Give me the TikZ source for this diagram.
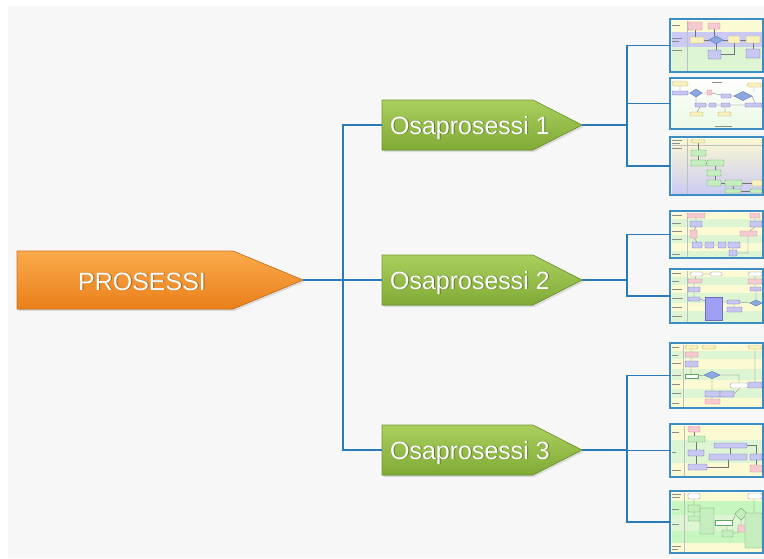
\documentclass[tikz,border=0pt]{standalone}
\usepackage{fontspec}
\setmainfont{Liberation Sans}
\usetikzlibrary{shadows}

\definecolor{pagebg}{HTML}{F7F7F7}
\definecolor{connblue}{HTML}{2A7AB8}
\definecolor{orgtop}{HTML}{FBAA4C}
\definecolor{orgbot}{HTML}{E9801A}
\definecolor{orgedge}{HTML}{D4721A}
\definecolor{grntop}{HTML}{AACF5E}
\definecolor{grnbot}{HTML}{80AA36}
\definecolor{grnedge}{HTML}{6F9A2E}
\definecolor{frameblue}{HTML}{3C8EC2}
\definecolor{laneyel}{HTML}{FCFAD2}
\definecolor{lanegrn}{HTML}{DDF5D3}
\definecolor{lanelav}{HTML}{CACAF4}
\definecolor{bxpink}{HTML}{F5CBD1}
\definecolor{bxpinkd}{HTML}{D0808F}
\definecolor{bxlav}{HTML}{C7C7F1}
\definecolor{bxlavd}{HTML}{6E6EC0}
\definecolor{bxyel}{HTML}{F8F1BE}
\definecolor{bxyeld}{HTML}{BDAE62}
\definecolor{bxgrn}{HTML}{C6EDBE}
\definecolor{bxgrnd}{HTML}{5EA65E}
\definecolor{bxdia}{HTML}{8EA7E0}
\definecolor{bxdiad}{HTML}{4F6FB0}

\tikzset{
  conn/.style={draw=connblue, line width=1.4},
  mainshape/.style={top color=orgtop, bottom color=orgbot, draw=orgedge, line width=0.6,
    drop shadow={opacity=0.22, shadow xshift=1.5pt, shadow yshift=-2pt}},
  subshape/.style={top color=grntop, bottom color=grnbot, draw=grnedge, line width=0.6,
    drop shadow={opacity=0.22, shadow xshift=1.5pt, shadow yshift=-2pt}},
  bigtext/.style={font=\fontsize{25}{30}\selectfont, text=white, inner sep=0, anchor=base},
  bigshadow/.style={font=\fontsize{25}{30}\selectfont, text=black, opacity=0.35, inner sep=0, anchor=base},
  thumbframe/.style={draw=frameblue, line width=1.5},
  thumbinner/.style={draw=white, line width=0.5, opacity=0.7},
  tpink/.style={fill=bxpink, draw=bxpinkd, line width=0.35, rounded corners=0.6},
  tlav/.style={fill=bxlav, draw=bxlavd, line width=0.35, rounded corners=0.6},
  tyel/.style={fill=bxyel, draw=bxyeld, line width=0.35, rounded corners=0.6},
  tgrn/.style={fill=bxgrn, draw=bxgrnd, line width=0.35, rounded corners=0.6},
  twht/.style={fill=white, draw=black!45, line width=0.35, rounded corners=1.5},
  tdia/.style={fill=bxdia, draw=bxdiad, line width=0.35},
  tflow/.style={draw=black!55, line width=0.3},
  tsep/.style={draw=black!25, line width=0.3},
  tword/.style={draw=black!45, line width=0.5},
}

% small diamond: centre x, centre y, half width, half height
\newcommand{\tdiamond}[4]{%
  \filldraw[tdia] ({#1-#3},#2) -- (#1,{#2-#4}) -- ({#1+#3},#2) -- (#1,{#2+#4}) -- cycle;}

% miniature process chart: name, left x, top y, height, contents
\newcommand{\minichart}[5]{%
  \begin{scope}[shift={(#2,#3)}]
    \begin{scope}
      \clip (0,0) rectangle (93,#4);
      #5
    \end{scope}
    \draw[thumbinner] (1.2,1.2) rectangle (91.8,{#4-1.2});
    \draw[thumbframe] (0,0) rectangle (93,#4);
  \end{scope}
  \coordinate (#1) at (#2,{#3+#4/2});}

% horizontal swim lanes: list of top/bottom/colour
\newcommand{\lanes}[1]{%
  \foreach \ta/\tb/\tc in {#1} {\fill[\tc] (0,\ta) rectangle (93,\tb); \draw[tsep] (0,\tb) -- (93,\tb);}}

\begin{document}
\begin{tikzpicture}[x=1pt, y=-1pt]
  \useasboundingbox (0,0) rectangle (764,558);
  \fill[white] (0,0) rectangle (764,558);
  \fill[pagebg] (8,6) rectangle (764,558);

  % ---------- main process ----------
  \filldraw[mainshape] (17,251) -- (233,251) -- (303,280) -- (233,309) -- (17,309) -- cycle;
  \coordinate (mainTip) at (303,280);
  \node[bigshadow] at (143,290.8) {PROSESSI};
  \node[bigtext] (mainLabel) at (142,290) {PROSESSI};

  % ---------- sub processes ----------
  \foreach \cy/\nm/\num in {125/sub1/1, 280/sub2/2, 450/sub3/3} {
    \filldraw[subshape] (382,\cy-25) -- (533,\cy-25) -- (582,\cy) -- (533,\cy+25) -- (382,\cy+25) -- cycle;
    \coordinate (\nm W) at (382,\cy);
    \coordinate (\nm Tip) at (582,\cy);
    \node[bigshadow] at (471,\cy+9.8) {Osaprosessi \num};
    \node[bigtext] (\nm Label) at (470,\cy+9) {Osaprosessi \num};
  }

  % ---------- miniature charts ----------
  % chart 1
  \minichart{t1}{670}{19}{53}{
    \lanes{0/13/laneyel, 13/28/lanelav, 28/53/lanegrn}
    \draw[tsep] (17,0) -- (17,53);
    \draw[tword] (2,6) -- (10,6) (2,19) -- (12,19) (2,22) -- (9,22) (2,31) -- (12,31);
    \draw[tflow] (25,11) -- (25,18) (44,10) -- (44,17) (34,21) -- (39,21) (53,21) -- (58,21)
      (70,21) -- (76,21) (46,25) -- (46,31) (51,35) -| (64,24) (83,24) -- (83,30);
    \filldraw[tpink] (18,3) rectangle (32,11);
    \filldraw[tpink] (38,4) rectangle (50,10);
    \filldraw[tyel] (20,18) rectangle (34,24);
    \tdiamond{46}{21}{7}{4}
    \filldraw[tyel] (58,17) rectangle (70,24);
    \filldraw[tyel] (76,17) rectangle (90,24);
    \filldraw[tlav] (38,31) rectangle (51,40);
    \filldraw[tlav] (76,30) rectangle (90,39);
  }
  % chart 2
  \minichart{t2}{670}{78}{51}{
    \fill[top color=white, bottom color=lanegrn!60] (0,0) rectangle (93,51);
    \draw[tword] (42,4) -- (52,4) (45,48) -- (62,48);
    \draw[tflow] (18,15) -- (20,15) (32,15) -- (37,15) (42,15) -- (51,17) (61,18) -- (64,18)
      (26,19) -- (26,25) (36,27) -- (39,27) (46,27) -- (51,27) (82,18) -- (85,25)
      (84,9) -- (84,14) (30,29) -- (27,34) (55,29) -- (55,34) (10,8) -- (10,13) (60,27) -- (75,27);
    \filldraw[tyel, rounded corners=1.5] (2,3) rectangle (18,8);
    \filldraw[tlav] (2,13) rectangle (18,17);
    \tdiamond{26}{15}{6}{4}
    \filldraw[tpink] (37,12) rectangle (42,17);
    \filldraw[tlav] (51,16) rectangle (61,20);
    \tdiamond{73}{18}{9}{4.5}
    \filldraw[tyel, rounded corners=1.5] (77,5) rectangle (92,9);
    \filldraw[tlav] (25,25) rectangle (36,29);
    \filldraw[tlav] (39,25) rectangle (46,29);
    \filldraw[tlav] (51,25) rectangle (60,29);
    \filldraw[tlav] (75,25) rectangle (92,29);
    \filldraw[tyel] (20,34) rectangle (33,38);
    \filldraw[tyel] (48,34) rectangle (61,38);
  }
  % chart 3
  \minichart{t3}{670}{137}{58}{
    \fill[top color=laneyel, bottom color=lanelav] (0,0) rectangle (93,58);
    \draw[tsep] (0,8) -- (93,8) (17,0) -- (17,58);
    \draw[tword] (2,3) -- (12,3) (2,6) -- (10,6) (2,11) -- (12,11);
    \draw[tflow] (28,6) -- (28,13) (28,19) -- (28,23) (36,26) -- (37,26) (45,29) -- (45,33)
      (45,39) -- (45,43) (51,46) -- (55,46) (72,46) -- (82,46) (63,49) -- (63,52) (71,54) -- (80,54);
    \filldraw[tyel, rounded corners=1.5] (21,2) rectangle (35,6);
    \filldraw[tgrn] (21,13) rectangle (36,19);
    \filldraw[tgrn] (21,23) rectangle (36,29);
    \filldraw[tgrn] (37,23) rectangle (54,29);
    \filldraw[tgrn] (37,33) rectangle (51,39);
    \filldraw[tgrn] (37,43) rectangle (51,49);
    \filldraw[tgrn] (55,43) rectangle (72,49);
    \filldraw[tyel] (82,43) rectangle (92,49);
    \filldraw[tgrn] (55,52) rectangle (71,56);
    \filldraw[tgrn] (80,52) rectangle (92,56);
  }
  % chart 4
  \minichart{t4}{670}{211}{47}{
    \lanes{0/8/laneyel, 8/16/lanegrn, 16/24/laneyel, 24/32/lanegrn, 32/40/laneyel, 40/47/lanegrn}
    \draw[tsep] (17,0) -- (17,47);
    \draw[tword] (2,4) -- (12,4) (2,12) -- (11,12) (2,20) -- (12,20) (2,28) -- (12,28) (2,43) -- (10,43);
    \draw[tflow] (26,7) -- (26,10) (26,16) -- (24,19) (24,27) -- (27,31) (32,34) -- (35,34)
      (44,34) -- (48,34) (56,34) -- (58,34) (63,37) -- (63,39) (67,42) -| (78,25) (85,7) -- (85,10) (85,16) -- (80,20);
    \filldraw[tpink] (17,2) rectangle (35,7);
    \filldraw[tlav] (20,10) rectangle (32,16);
    \filldraw[tpink] (20,19) rectangle (27,27);
    \filldraw[tlav] (22,31) rectangle (32,37);
    \filldraw[tlav] (35,31) rectangle (44,37);
    \filldraw[tlav] (48,31) rectangle (56,37);
    \filldraw[tlav] (58,31) rectangle (70,37);
    \filldraw[tlav] (59,39) rectangle (67,45);
    \filldraw[tpink] (80,2) rectangle (90,7);
    \filldraw[tlav] (80,10) rectangle (92,16);
    \filldraw[tpink] (70,20) rectangle (87,25);
  }
  % chart 5
  \minichart{t5}{670}{269}{54}{
    \lanes{0/8/laneyel, 8/16/lanegrn, 16/24/laneyel, 24/34/lanegrn, 34/42/laneyel, 42/54/lanegrn}
    \draw[tsep] (17,0) -- (17,54);
    \draw[tword] (2,4) -- (11,4) (2,12) -- (9,12) (2,20) -- (12,20) (2,29) -- (13,29) (2,38) -- (12,38) (2,47) -- (12,47);
    \draw[tflow] (26,7) -- (25,10) (33,5) -- (40,5) (24,14) -- (24,18) (24,23) -- (24,28)
      (30,30) -- (35,32) (52,33) -- (57,33) (70,33) -- (80,34) (64,35) -- (64,38)
      (85,15) -- (85,18) (86,22) -- (86,31) (85,7) -- (85,10);
    \filldraw[twht] (20,3) rectangle (33,7);
    \filldraw[twht] (40,3) rectangle (52,7);
    \filldraw[twht] (78,3) rectangle (92,7);
    \filldraw[tpink] (18,10) rectangle (32,14);
    \filldraw[tpink] (78,10) rectangle (92,15);
    \filldraw[tlav] (18,18) rectangle (30,23);
    \filldraw[tlav] (18,28) rectangle (30,32);
    \filldraw[fill=bxlav!80!blue, draw=bxlavd, line width=0.35] (35,28) rectangle (52,51);
    \filldraw[tlav] (57,31) rectangle (70,35);
    \filldraw[tlav] (57,38) rectangle (72,43);
    \tdiamond{86}{34}{6}{3}
    \filldraw[tlav] (80,18) rectangle (91,22);
  }
  % chart 6
  \minichart{t6}{670}{343}{65}{
    \lanes{0/8/laneyel, 8/16/lanegrn, 16/26/laneyel, 26/37/lanegrn, 37/46/laneyel, 46/55/lanegrn, 55/65/laneyel}
    \draw[tsep] (13,0) -- (13,65);
    \draw[tword] (2,4) -- (9,4) (2,12) -- (8,12) (2,20) -- (11,20) (2,32) -- (11,32) (2,41) -- (10,41) (2,50) -- (11,50) (2,60) -- (9,60);
    \draw[tflow] (21,6) -- (21,9) (21,14) -- (21,18) (21,24) -- (21,31) (28,33) -- (34,32)
      (50,32) -| (69,40) (42,36) -- (42,48) (42,54) -- (42,56) (64,51) -- (70,45)
      (85,39) -- (85,6) (46,4) -- (39,4);
    \filldraw[tyel, rounded corners=1.5] (15,2) rectangle (28,6);
    \filldraw[tyel, rounded corners=1.5] (32,2) rectangle (46,6);
    \filldraw[tyel, rounded corners=1.5] (78,2) rectangle (92,6);
    \filldraw[tpink] (15,9) rectangle (28,14);
    \filldraw[tlav] (15,18) rectangle (28,24);
    \filldraw[fill=white, draw=bxgrnd, line width=0.35] (15,31) rectangle (28,35);
    \tdiamond{42}{32}{8}{3.5}
    \filldraw[twht] (60,40) rectangle (78,45);
    \filldraw[tlav] (78,39) rectangle (92,45);
    \filldraw[tlav] (35,48) rectangle (50,54);
    \filldraw[tlav] (50,48) rectangle (64,54);
    \filldraw[tpink] (35,56) rectangle (50,61);
  }
  % chart 7
  \minichart{t7}{670}{424}{53}{
    \lanes{0/16/laneyel, 16/39/lanegrn, 39/53/laneyel}
    \draw[tsep] (14,0) -- (14,53);
    \draw[tword] (2,8) -- (9,8) (2,28) -- (6,28) (2,46) -- (11,46);
    \draw[tflow] (24,8) -- (24,12) (26,18) -- (26,26) (26,32) -- (26,40) (37,43) -| (58,36)
      (60,24) -- (60,30) (77,21) -| (86,30) (86,36) -- (86,41);
    \filldraw[tpink, rounded corners=1.5] (18,2) rectangle (30,8);
    \filldraw[tgrn] (18,12) rectangle (35,18);
    \filldraw[tlav] (18,26) rectangle (34,32);
    \filldraw[tlav] (18,40) rectangle (37,46);
    \filldraw[tlav] (44,19) rectangle (77,24);
    \filldraw[tlav] (39,30) rectangle (77,36);
    \filldraw[tlav] (80,30) rectangle (92,36);
    \filldraw[tpink] (80,41) rectangle (92,48);
  }
  % chart 8
  \minichart{t8}{670}{491}{62}{
    \lanes{0/10/laneyel, 10/24/lanegrn!90!green, 24/40/lanegrn, 40/52/lanegrn!90!green, 52/62/laneyel}
    \draw[tsep] (14,0) -- (14,62);
    \draw[tword] (2,3) -- (11,3) (2,6) -- (10,6) (2,18) -- (9,18) (2,33) -- (9,33) (2,55) -- (11,55) (2,58) -- (8,58);
    \draw[tflow] (24,8) -- (24,14) (24,21) -- (24,25) (44,31) -- (45,31) (62,31) -- (65,25)
      (71,29) -- (71,34) (57,34) -- (57,39) (84,8) -- (84,22) (63,42) -| (68,37);
    \filldraw[twht] (18,2) rectangle (30,8);
    \filldraw[twht] (78,2) rectangle (92,8);
    \filldraw[tgrn] (18,14) rectangle (30,21);
    \filldraw[tgrn] (18,25) rectangle (30,30);
    \filldraw[tgrn] (30,17) rectangle (44,43);
    \filldraw[fill=white, draw=bxgrnd, line width=0.35] (45,29) rectangle (62,34);
    \filldraw[fill=bxgrn, draw=bxgrnd, line width=0.35] (64.5,23) -- (71,17) -- (77.5,23) -- (71,29) -- cycle;
    \filldraw[tpink] (68,34) rectangle (78,41);
    \filldraw[tgrn] (75,22) rectangle (92,57);
    \filldraw[tgrn] (52,39) rectangle (63,46);
  }

  % ---------- connectors ----------
  \coordinate (hubMain) at (343,280);
  \draw[conn] (mainTip) -- (hubMain);
  \draw[conn] (hubMain) -- (sub2W);
  \draw[conn] (hubMain) |- (sub1W);
  \draw[conn] (hubMain) |- (sub3W);

  \coordinate (hub1) at (627,125);
  \draw[conn] (sub1Tip) -- (hub1);
  \draw[conn] (hub1) |- (t1);
  \draw[conn] (hub1) |- (t2);
  \draw[conn] (hub1) |- (t3);

  \coordinate (hub2) at (627,280);
  \draw[conn] (sub2Tip) -- (hub2);
  \draw[conn] (hub2) |- (t4);
  \draw[conn] (hub2) |- (t5);

  \coordinate (hub3) at (627,450);
  \draw[conn] (sub3Tip) -- (hub3);
  \draw[conn] (hub3) |- (t6);
  \draw[conn] (hub3) |- (t7);
  \draw[conn] (hub3) |- (t8);
\end{tikzpicture}
\end{document}
